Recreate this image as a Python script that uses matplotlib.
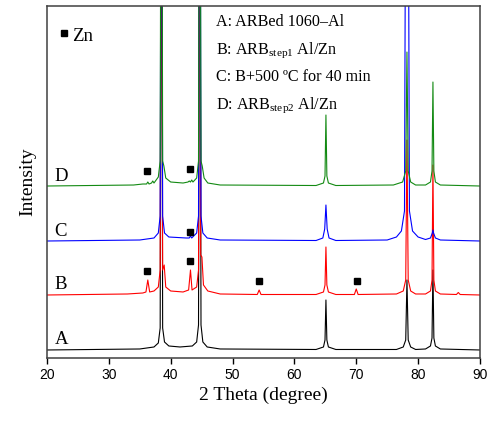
import numpy as np
import matplotlib.pyplot as plt

plt.rcParams['font.family'] = 'Liberation Serif'
plt.rcParams['mathtext.fontset'] = 'custom'
plt.rcParams['mathtext.rm'] = 'Liberation Serif'

# XRD traces (2theta, intensity above own baseline)
a_tt = [20, 35, 37.3, 38.0, 38.3, 38.5, 38.7, 39.0, 39.7, 41.5, 43.5, 44.2, 44.5, 44.7, 44.9, 45.2, 45.9, 48,
        63.5, 64.7, 64.95, 65.1, 65.25, 65.5, 66.7, 76.5, 77.6, 78.0, 78.2, 78.4, 78.8, 79.6,
        81.2, 82.0, 82.25, 82.4, 82.55, 82.8, 83.6, 90]
a_int = [0, 1, 3, 7, 22, 600, 22, 8, 4, 3, 4, 8, 25, 600, 25, 8, 3, 1,
         0.5, 3, 10, 50, 10, 3, 0.5, 0.5, 3, 10, 70, 10, 3, 0.5,
         1, 4, 12, 80, 12, 4, 1, 0]

b_tt = [20, 33, 35.5, 36.0, 36.3, 36.6, 37.3, 38.0, 38.3, 38.5, 38.7, 38.95, 39.2, 40.0, 42.0, 42.9, 43.2, 43.45,
        44.2, 44.5, 44.7, 44.85, 45.05, 45.3, 46.0, 48, 54.0, 54.3, 54.6, 63.5, 64.7, 64.95, 65.1, 65.25,
        65.5, 66.7, 69.7, 70.0, 70.3, 76.5, 77.6, 78.0, 78.2, 78.4, 78.8, 79.6, 81.2, 82.0, 82.25, 82.4,
        82.55, 82.8, 83.6, 86.2, 86.5, 86.8, 90]
b_int = [0, 1, 2, 3, 15, 3, 4, 8, 25, 600, 25, 30, 8, 4, 3, 5, 25, 5,
         8, 25, 600, 40, 38, 10, 4, 1, 0.5, 5, 0.5, 0.5, 3, 10, 48, 10,
         3, 0.5, 0.5, 6, 0.5, 1, 4, 15, 155, 15, 4, 1, 1, 4, 15, 130,
         15, 4, 1, 0.5, 2.5, 0.5, 0]

c_tt = [20, 35, 37.3, 38.0, 38.3, 38.5, 38.7, 39.0, 39.7, 42.5, 43.0, 43.2, 43.4, 44.2, 44.5, 44.7, 44.9, 45.2,
        45.9, 48, 63.5, 64.6, 64.9, 65.1, 65.3, 65.6, 66.7, 75.0, 76.5, 77.3, 77.8, 78.1, 78.3, 78.6,
        79.1, 80.0, 81.2, 82.0, 82.3, 82.4, 82.5, 82.8, 83.6, 90]
c_int = [0, 1, 3, 8, 25, 600, 25, 8, 4, 3, 3, 5, 3, 8, 25, 600, 25, 8,
         3, 1, 0.5, 3, 12, 36, 12, 3, 0.5, 1, 4, 10, 30, 600, 600, 30,
         10, 4, 1.5, 3, 8, 11, 8, 3, 1, 0]

d_tt = [20, 34, 35.5, 36.1, 36.3, 36.5, 36.9, 37.1, 37.3, 38.0, 38.3, 38.5, 38.7, 38.9, 39.2, 40.0, 42.0, 42.8,
        43.0, 43.2, 43.4, 43.6, 44.2, 44.5, 44.7, 44.9, 45.1, 45.4, 46.0, 48, 63.5, 64.7, 64.95, 65.1,
        65.25, 65.5, 66.7, 76.0, 77.5, 78.0, 78.2, 78.4, 78.8, 79.6, 81.2, 82.0, 82.25, 82.4, 82.55,
        82.8, 83.6, 90]
d_int = [0, 1, 2, 2, 4, 2, 3, 5, 3, 9, 25, 600, 25, 20, 8, 4, 3, 4,
         5, 4, 6, 4, 8, 25, 600, 25, 20, 8, 3, 1, 0.5, 3, 10, 71,
         10, 3, 0.5, 1, 4, 15, 134, 15, 4, 1, 1, 4, 15, 104, 15,
         4, 1, 0]

offsets = [8, 63, 117, 172]
labels = ['A', 'B', 'C', 'D']
colors = ['black', 'red', 'blue', '#138a13']

# Zn reflections marked with squares
zn_tt = [36.2, 43.2, 43.2, 36.2, 43.2, 54.3, 70.1]
zn_y = [187, 189, 126, 87, 97, 77, 77]

legend_lines = ['A: ARBed 1060\u2013Al',
                'B: ARB$_{\\mathregular{step1}}$ Al/Zn',
                'C: B+500 \u00baC for 40 min',
                'D: ARB$_{\\mathregular{step2}}$ Al/Zn']

fig = plt.figure(figsize=(4.92, 4.22), dpi=100)
ax = fig.add_axes([0.0955, 0.1517, 0.880, 0.834])

series = [(a_tt, a_int), (b_tt, b_int), (c_tt, c_int), (d_tt, d_int)]
for (tt, inten), off, lab, col in zip(series, offsets, labels, colors):
    ax.plot(tt, np.array(inten) + off, color=col, lw=0.8)
    ax.text(21.2, off + 10, lab, fontsize=13.5, ha='left', va='center')

ax.plot(zn_tt, zn_y, 's', color='black', ms=4.5)
ax.plot([22.75], [325], 's', color='black', ms=4.5)
ax.text(24.1, 322, 'Zn', fontsize=13.5, ha='left', va='center')

for i, s in enumerate(legend_lines):
    ax.text(47.3, 336 - 27.7 * i, s, fontsize=11.6, ha='left', va='center')

ax.set_xlim(20, 90)
ax.set_ylim(0, 352)
ax.set_xticks(range(20, 91, 10))
ax.set_yticks([])
ax.tick_params(axis='x', direction='out', length=4, width=1, labelsize=10)
for t in ax.get_xticklabels():
    t.set_fontfamily('Liberation Sans')
for sp in ax.spines.values():
    sp.set_color('#404040')
    sp.set_linewidth(1.1)

ax.set_xlabel('2 Theta (degree)', fontsize=14, labelpad=3)
ax.set_ylabel('Intensity', fontsize=14, labelpad=8)

fig.savefig('out.png', dpi=100)
